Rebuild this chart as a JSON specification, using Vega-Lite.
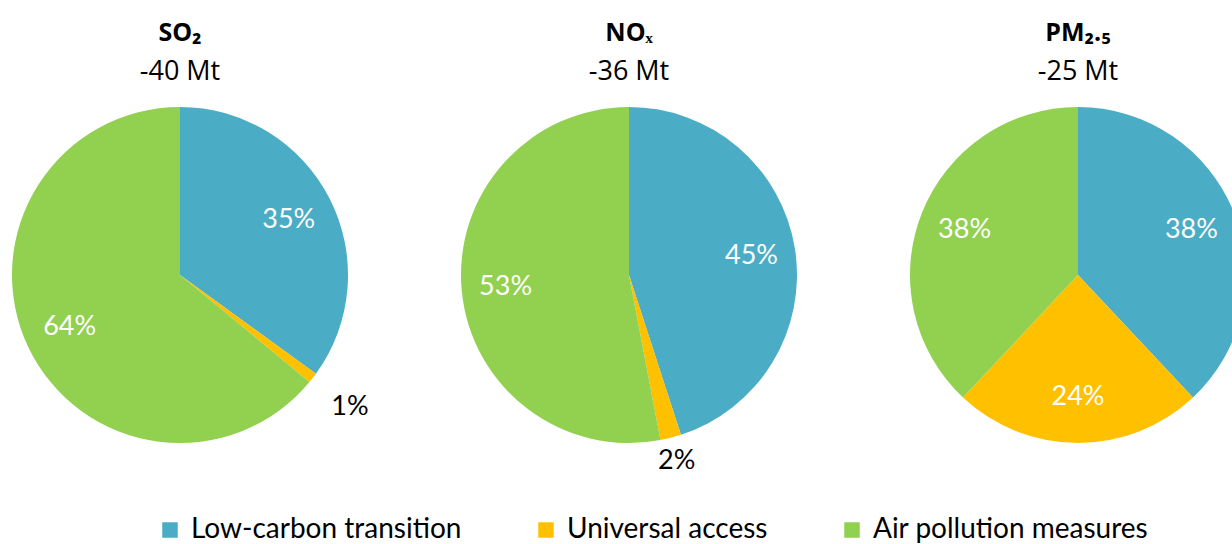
{
  "$schema": "https://vega.github.io/schema/vega-lite/v6.json",
  "padding": {"left": 0, "top": 21, "right": 0, "bottom": 0},
  "background": "white",
  "spacing": 89,
  "bounds": "flush",
  "resolve": {"scale": {"radius": "independent"}},
  "config": {
    "font": "Lato",
    "view": {"stroke": null},
    "title": {"anchor": "middle", "font": "Open Sans", "fontSize": 25, "fontWeight": "bold", "color": "black", "subtitleFont": "Open Sans", "subtitleFontSize": 27, "subtitleColor": "black", "subtitlePadding": 13, "offset": 10},
    "legend": {"direction": "horizontal", "gridAlign": "none", "labelFontSize": 28, "labelColor": "black", "symbolType": "square", "symbolSize": 240, "symbolStrokeWidth": 0, "columnPadding": 70, "labelOffset": 7, "labelLimit": 400}
  },
  "datasets": {
    "pies": [
      {"pollutant": "SO2", "category": "Low-carbon transition", "k": 1, "share": 0.35},
      {"pollutant": "SO2", "category": "Universal access", "k": 2, "share": 0.01},
      {"pollutant": "SO2", "category": "Air pollution measures", "k": 3, "share": 0.64},
      {"pollutant": "NOx", "category": "Low-carbon transition", "k": 1, "share": 0.45},
      {"pollutant": "NOx", "category": "Universal access", "k": 2, "share": 0.02},
      {"pollutant": "NOx", "category": "Air pollution measures", "k": 3, "share": 0.53},
      {"pollutant": "PM25", "category": "Low-carbon transition", "k": 1, "share": 0.38},
      {"pollutant": "PM25", "category": "Universal access", "k": 2, "share": 0.24},
      {"pollutant": "PM25", "category": "Air pollution measures", "k": 3, "share": 0.38}
    ]
  },
  "hconcat": [
    {
      "title": {"text": "SO₂", "subtitle": "-40 Mt"},
      "width": 360, "height": 360,
      "data": {"name": "pies"},
      "transform": [{"filter": "datum.pollutant === 'SO2'"}],
      "encoding": {
        "theta": {"field": "share", "type": "quantitative", "stack": true},
        "order": {"field": "k", "type": "quantitative"}
      },
      "layer": [
        {"mark": {"type": "arc", "outerRadius": 168},
         "encoding": {"color": {"field": "category", "type": "nominal", "title": null, "legend": {"orient": "none", "legendX": 156, "legendY": 421, "direction": "horizontal"}, "scale": {"domain": ["Low-carbon transition", "Universal access", "Air pollution measures"], "range": ["#4BACC6", "#FFC000", "#92D050"]}}}},
        {"mark": {"type": "text", "radius": 122, "fontSize": 27, "color": "white"},
         "encoding": {"text": {"condition": {"test": "datum.share >= 0.05", "field": "share", "type": "quantitative", "format": ".0%"}, "value": ""}}},
        {"mark": {"type": "text", "fontSize": 27, "color": "black"},
         "encoding": {
           "radius": {"field": "share", "type": "quantitative", "scale": {"type": "linear", "domain": [0.04, 0.05], "range": [215, 0], "clamp": true, "zero": false}},
           "text": {"condition": {"test": "datum.share < 0.05", "field": "share", "type": "quantitative", "format": ".0%"}, "value": ""}}}
      ]
    },
    {
      "title": {"text": "NOₓ", "subtitle": "-36 Mt"},
      "width": 360, "height": 360,
      "data": {"name": "pies"},
      "transform": [{"filter": "datum.pollutant === 'NOx'"}],
      "encoding": {
        "theta": {"field": "share", "type": "quantitative", "stack": true},
        "order": {"field": "k", "type": "quantitative"}
      },
      "layer": [
        {"mark": {"type": "arc", "outerRadius": 168},
         "encoding": {"color": {"field": "category", "type": "nominal", "title": null, "scale": {"domain": ["Low-carbon transition", "Universal access", "Air pollution measures"], "range": ["#4BACC6", "#FFC000", "#92D050"]}}}},
        {"mark": {"type": "text", "radius": 124, "fontSize": 27, "color": "white"},
         "encoding": {"text": {"condition": {"test": "datum.share >= 0.05", "field": "share", "type": "quantitative", "format": ".0%"}, "value": ""}}},
        {"mark": {"type": "text", "fontSize": 27, "color": "black"},
         "encoding": {
           "radius": {"field": "share", "type": "quantitative", "scale": {"type": "linear", "domain": [0.04, 0.05], "range": [192, 0], "clamp": true, "zero": false}},
           "text": {"condition": {"test": "datum.share < 0.05", "field": "share", "type": "quantitative", "format": ".0%"}, "value": ""}}}
      ]
    },
    {
      "title": {"text": "PM₂.₅", "subtitle": "-25 Mt"},
      "width": 360, "height": 360,
      "data": {"name": "pies"},
      "transform": [{"filter": "datum.pollutant === 'PM25'"}],
      "encoding": {
        "theta": {"field": "share", "type": "quantitative", "stack": true},
        "order": {"field": "k", "type": "quantitative"}
      },
      "layer": [
        {"mark": {"type": "arc", "outerRadius": 168},
         "encoding": {"color": {"field": "category", "type": "nominal", "title": null, "scale": {"domain": ["Low-carbon transition", "Universal access", "Air pollution measures"], "range": ["#4BACC6", "#FFC000", "#92D050"]}}}},
        {"mark": {"type": "text", "radius": 122, "fontSize": 27, "color": "white"},
         "encoding": {"text": {"field": "share", "type": "quantitative", "format": ".0%"}}}
      ]
    }
  ]
}
